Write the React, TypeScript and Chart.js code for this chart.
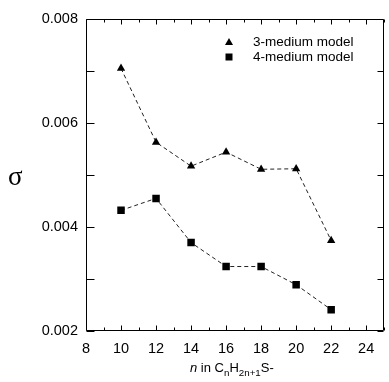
import React, { useEffect, useRef } from 'react';
import { Chart, registerables } from 'chart.js';

Chart.register(...registerables);

// ---- data ----
const nValues = [10, 12, 14, 16, 18, 20, 22];
const sigma3Medium = [0.00705, 0.00563, 0.00517, 0.00544, 0.00511, 0.00512, 0.00374];
const sigma4Medium = [0.00432, 0.00455, 0.0037, 0.00324, 0.00324, 0.00289, 0.00241];
const seriesLabels = ['3-medium model', '4-medium model'];
const xTickLabels = ['8', '10', '12', '14', '16', '18', '20', '22', '24'];
const yTickLabels = ['0.002', '0.004', '0.006', '0.008'];

const W = 389;
const H = 382;
const FONT = '"Liberation Sans", Arial, Helvetica, sans-serif';

const frameTicksPlugin = {
  id: 'frameTicks',
  beforeDatasetsDraw(chart: any) {
    const { ctx, chartArea: a, scales } = chart;
    const l = Math.round(a.left) + 0.5;
    const r = Math.round(a.right) - 0.5;
    const t = Math.round(a.top) + 0.5;
    const b = Math.round(a.bottom) - 0.5;
    ctx.save();
    ctx.strokeStyle = '#000';
    ctx.lineWidth = 1;
    ctx.beginPath();
    ctx.rect(l, t, r - l, b - t);
    // y ticks (left & right), inward
    for (const tk of scales.y.ticks) {
      const y = Math.round(scales.y.getPixelForValue(tk.value)) + 0.5;
      ctx.moveTo(l, y);
      ctx.lineTo(l + 8, y);
      ctx.moveTo(r, y);
      ctx.lineTo(r - 6, y);
    }
    // x ticks (bottom & top), inward
    for (const tk of scales.x.ticks) {
      const v = Math.round(tk.value);
      const x = Math.round(scales.x.getPixelForValue(tk.value)) + 0.5;
      const len = v % 2 === 0 ? 5 : 3;
      ctx.moveTo(x, b);
      ctx.lineTo(x, b - len);
      ctx.moveTo(x, t);
      ctx.lineTo(x, t + len);
    }
    ctx.stroke();
    ctx.restore();
  },
};

const legendPlugin = {
  id: 'customLegend',
  afterDatasetsDraw(chart: any) {
    const { ctx } = chart;
    const markerX = 229;
    const textX = 253;
    const rows = [42, 57];
    ctx.save();
    ctx.fillStyle = '#000';
    ctx.font = `13.5px ${FONT}`;
    ctx.textBaseline = 'middle';
    chart.data.datasets.forEach((ds: any, i: number) => {
      const y = rows[i];
      ctx.beginPath();
      if (ds.pointStyle === 'triangle') {
        ctx.moveTo(markerX, y - 4);
        ctx.lineTo(markerX + 4, y + 3);
        ctx.lineTo(markerX - 4, y + 3);
        ctx.closePath();
      } else {
        ctx.rect(markerX - 3.5, y - 3.5, 7, 7);
      }
      ctx.fill();
      ctx.fillText(ds.label, textX, y + 0.5);
    });
    ctx.restore();
  },
};

export default function App() {
  const canvasRef = useRef<HTMLCanvasElement | null>(null);

  useEffect(() => {
    if (!canvasRef.current) return;
    const toPoints = (ys: number[]) => nValues.map((x, i) => ({ x, y: ys[i] }));
    const chart = new Chart(canvasRef.current, {
      type: 'scatter',
      data: {
        datasets: [
          {
            label: seriesLabels[0],
            data: toPoints(sigma3Medium),
            showLine: true,
            borderColor: '#222',
            borderWidth: 1,
            borderDash: [4, 3],
            pointStyle: 'triangle',
            pointRadius: 4.8,
            pointBackgroundColor: '#000',
            pointBorderColor: '#000',
            pointBorderWidth: 0,
          },
          {
            label: seriesLabels[1],
            data: toPoints(sigma4Medium),
            showLine: true,
            borderColor: '#222',
            borderWidth: 1,
            borderDash: [4, 3],
            pointStyle: 'rect',
            pointRadius: 5.3,
            pointBackgroundColor: '#000',
            pointBorderColor: '#000',
            pointBorderWidth: 0,
          },
        ],
      },
      options: {
        animation: false,
        responsive: false,
        maintainAspectRatio: false,
        layout: { padding: { top: 19, right: 1, left: 0, bottom: 0 } },
        plugins: {
          legend: { display: false },
          tooltip: { enabled: false },
        },
        scales: {
          x: {
            type: 'linear',
            min: 8,
            max: 25,
            grid: { display: false, drawTicks: false },
            border: { display: false },
            ticks: {
              stepSize: 1,
              autoSkip: false,
              maxRotation: 0,
              padding: 9,
              color: '#000',
              font: { family: FONT, size: 14.5 },
              callback: (v: any) => {
                const s = String(Math.round(Number(v)));
                return xTickLabels.includes(s) ? s : '';
              },
            },
            afterFit: (s: any) => {
              s.height = 51;
              s.paddingLeft = 0;
              s.paddingRight = 0;
            },
          },
          y: {
            type: 'linear',
            min: 0.002,
            max: 0.008,
            grid: { display: false, drawTicks: false },
            border: { display: false },
            ticks: {
              stepSize: 0.001,
              autoSkip: false,
              padding: 8,
              color: '#000',
              font: { family: FONT, size: 14.5 },
              callback: (v: any) => {
                const s = Number(v).toFixed(3);
                return yTickLabels.includes(s) ? s : '';
              },
            },
            afterFit: (s: any) => {
              s.width = 86;
            },
          },
        },
      },
      plugins: [frameTicksPlugin, legendPlugin],
    });
    return () => chart.destroy();
  }, []);

  return (
    <div
      style={{
        position: 'absolute',
        left: 0,
        top: 0,
        width: W,
        height: H,
        overflow: 'hidden',
        background: '#fff',
      }}
    >
      <canvas ref={canvasRef} width={W} height={H} style={{ display: 'block', width: W, height: H }} />
      <span
        style={{
          position: 'absolute',
          left: 8,
          top: 163,
          fontFamily: '"Liberation Serif", "Times New Roman", serif',
          fontSize: 27,
          lineHeight: 1,
          color: '#000',
        }}
      >
        σ
      </span>
      <div
        style={{
          position: 'absolute',
          left: 190,
          top: 361,
          fontFamily: FONT,
          fontSize: 13,
          lineHeight: 1,
          color: '#000',
          whiteSpace: 'nowrap',
        }}
      >
        <i>n</i> in C<sub style={{ fontSize: '0.75em' }}>n</sub>H<sub style={{ fontSize: '0.75em' }}>2n+1</sub>S-
      </div>
    </div>
  );
}
